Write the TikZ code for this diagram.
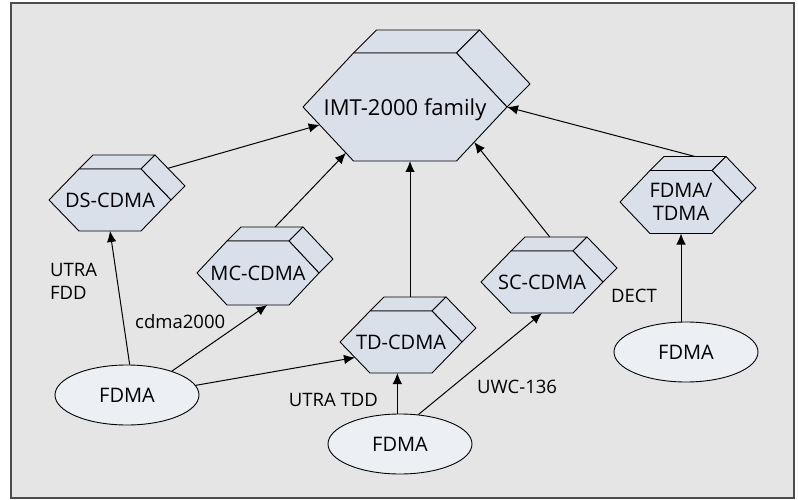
\documentclass[tikz,border=0pt]{standalone}
\usepackage{fontspec}
\setmainfont{Open Sans}
\usetikzlibrary{shapes,arrows.meta,calc}

\definecolor{hexblue}{HTML}{D9E0EA}
\definecolor{ovalblue}{HTML}{ECEFF4}
\definecolor{panel}{HTML}{E5E5E5}

\tikzset{
    face/.style={fill=hexblue, draw, line width=0.9pt, line join=round},
    hextext/.style={inner sep=0pt, align=center, text depth=0pt},
    oval/.style={ellipse, draw, fill=ovalblue, line width=0.9pt, inner sep=0pt,
        minimum width=144pt, minimum height=60pt, font=\fontsize{20}{24}\selectfont},
    link/.style={line width=1pt, -{Latex[length=11pt,width=9.5pt]}},
    tag/.style={inner sep=0pt, align=left, font=\fontsize{18.5}{23}\selectfont}
}

% hexagon block with top and side faces
% name, x, y, half width, half top edge, half height, depth, font size, text
\newcommand{\hexprism}[9]{%
    \path[face] ({#2-#5},{#3-#6}) coordinate (#1-nw) -- ++(#7,-#7) coordinate (#1-bl)
        -- ++({2*#5},0) coordinate (#1-br) -- ({#2+#5},{#3-#6}) coordinate (#1-ne) -- cycle;
    \path[face] (#1-ne) -- (#1-br) -- ({#2+#4+#7},{#3-#7}) coordinate (#1-bp)
        -- ({#2+#4},#3) coordinate (#1-e) -- cycle;
    \path[face] ({#2-#4},#3) coordinate (#1-w) -- (#1-nw) -- (#1-ne) -- (#1-e)
        -- ({#2+#5},{#3+#6}) coordinate (#1-se) -- ({#2-#5},{#3+#6}) coordinate (#1-sw) -- cycle;
    \node[hextext, font=\fontsize{#8}{23}\selectfont] (#1) at (#2,#3) {#9};
}

\begin{document}
\begin{tikzpicture}[x=1pt, y=-1pt]
    \useasboundingbox (0,0) rectangle (798,500);
    \draw[fill=panel, draw=black!70, line width=1.5pt] (11,3) rectangle (794,498);

    % the family and its members
    \hexprism{imt}{405}{107}{102}{51.5}{54}{23}{22}{IMT-2000 family}
    \hexprism{ds}{110}{200}{61}{31}{31}{14}{20}{DS-CDMA}
    \hexprism{mc}{258}{273}{61}{31}{32}{14}{20}{MC-CDMA}
    \hexprism{td}{401}{342}{61}{31}{31}{14}{20}{TD-CDMA}
    \hexprism{sc}{542}{282}{61}{31}{31}{14}{20}{SC-CDMA}
    \hexprism{ft}{681}{202}{61}{31}{31.5}{14}{20}{FDMA/\\TDMA}

    % access schemes underneath
    \node[oval] (fdl) at (127,395) {FDMA};
    \node[oval] (fdm) at (400,444) {FDMA};
    \node[oval] (fdr) at (686,352) {FDMA};

    \draw[link] (fdl.85) -- ($(ds-sw)!0.5!(ds-se)$);
    \draw[link] (fdl.28) -- ($(mc-sw)!0.65!(mc-se)$);
    \draw[link] (fdl.8) -- ($(td-w)!0.5!(td-sw)$);
    \draw[link] (fdm.95) -- (fdm.95 |- td-sw);
    \draw[link] (fdm.58) -- ($(sc-sw)!0.5!(sc-se)$);
    \draw[link] (fdr.north -| ft) -- (ft |- ft-sw);

    \draw[link] ($(ds-br)!0.43!(ds-bp)$) -- ($(imt-w)!0.33!(imt-sw)$);
    \draw[link] ($(mc-bl)!0.55!(mc-br)$) -- ($(imt-w)!0.85!(imt-sw)$);
    \coordinate (tdtop) at ($(td-bl)!0.42!(td-br)$);
    \draw[link] (tdtop) -- (tdtop |- imt-sw);
    \draw[link] ($(sc-bl)!0.4!(sc-br)$) -- ($(imt-e)!0.65!(imt-se)$);
    \draw[link] ($(ft-bl)!0.5!(ft-br)$) -- (imt-e);

    % standards on the links
    \node[tag, anchor=west] (utraf) at (50,281) {UTRA\\FDD};
    \node[tag, anchor=west] (cdma) at (135,322) {cdma2000};
    \node[tag, anchor=east] (utrat) at (378,400) {UTRA TDD};
    \node[tag, anchor=west] (uwc) at (477,387) {UWC-136};
    \node[tag, anchor=east] (dect) at (657,296) {DECT};
\end{tikzpicture}
\end{document}
